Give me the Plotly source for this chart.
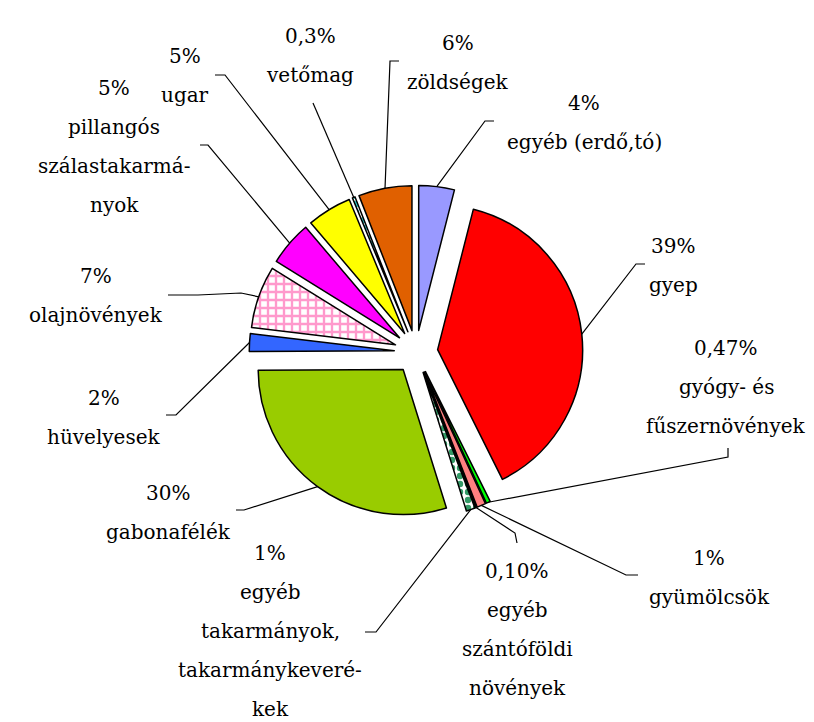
import math
import plotly.graph_objects as go

# ---------------- data ----------------
CATEGORIES = ["egyéb (erdő,tó)", "gyep", "gyógy- és fűszernövények", "gyümölcsök",
              "egyéb szántóföldi növények", "egyéb takarmányok, takarmánykeverékek",
              "gabonafélék", "hüvelyesek", "olajnövények", "pillangós szálastakarmányok",
              "ugar", "vetőmag", "zöldségek"]
VALUES = [4, 39, 0.47, 1, 0.10, 1, 30, 2, 7, 5, 5, 0.3, 6]
PCT_LABELS = ["4%", "39%", "0,47%", "1%", "0,10%", "1%", "30%", "2%", "7%", "5%", "5%", "0,3%", "6%"]
NAME_LINES = [["egyéb (erdő,tó)"], ["gyep"], ["gyógy- és", "fűszernövények"], ["gyümölcsök"],
              ["egyéb", "szántóföldi", "növények"],
              ["egyéb", "takarmányok,", "takarmánykeveré-", "kek"],
              ["gabonafélék"], ["hüvelyesek"], ["olajnövények"],
              ["pillangós", "szálastakarmá-", "nyok"], ["ugar"], ["vetőmag"], ["zöldségek"]]

# ---------------- styles / layout ----------------
W, H = 814, 722
COLORS = ["#9999FF", "#FF0000", "#00FF00", "#FF8080", "#1A1A1A", "#FFFF00", "#99CC00",
          "#3366FF", "#CCFFFF", "#FF00FF", "#FFFF00", "#000000", "#E06000"]
PAT_SHAPES = ["", "", "", "", "", ".", "", "", "+", "", "", ".", ""]
PAT_FG = ["#000000"] * 5 + ["#339966"] + ["#000000"] * 2 + ["#FF99CC"] + ["#000000"] * 2 + ["#33CCCC", "#000000"]
PULL = 0.15
CENTER_PX = (408, 344)
RADIUS_PX = 145          # radius of un-pulled pie in pixels
FONT = "DejaVu Serif"
FONT_SIZE = 20
LINE_H = 39
LABEL_X = [576, 665, 718, 701, 509, 262, 160, 96, 88, 106, 177, 302, 450]
LABEL_BASE_Y = [102, 245, 347, 557, 570, 552, 492, 397, 275, 87, 55, 35, 42]
LEADER_PTS = [
    [(477, 113), (486, 113)],
    [(628, 256), (637, 256)],
    [(720, 449), (720, 440)],
    [(618, 567), (630, 567)],
    [(507, 525), (509, 535)],
    [(368, 624), (357, 624)],
    [(236, 502), (228, 502)],
    [(168, 407), (158, 407)],
    [(233, 285), (190, 287), (160, 287)],
    [(200, 137), (192, 137)],
    [(217, 67), (207, 67)],
    [(305, 95)],
    [(382, 53), (391, 53)],
]

# pie domain so that plotly's radius (min(rx,ry)/(1+maxPull)) equals RADIUS_PX
half = RADIUS_PX * (1 + PULL)
dom_x = [(CENTER_PX[0] - half) / W, (CENTER_PX[0] + half) / W]
cy_paper = 1 - CENTER_PX[1] / H
dom_y = [cy_paper - half / H, cy_paper + half / H]

fig = go.Figure(go.Pie(
    labels=CATEGORIES, values=VALUES, sort=False, direction="clockwise", rotation=0,
    pull=[PULL] * len(VALUES), textinfo="none", hoverinfo="skip",
    marker=dict(colors=COLORS, line=dict(color="#000000", width=1.5),
                pattern=dict(shape=PAT_SHAPES, fgcolor=PAT_FG, size=8, solidity=0.5)),
    domain=dict(x=dom_x, y=dom_y), showlegend=False,
))

def px2paper(x, y):
    return x / W, 1 - y / H

total = sum(VALUES)
cum = 0.0
shapes, annotations = [], []
for i, v in enumerate(VALUES):
    mid = math.radians((cum + v / 2) / total * 360)
    cum += v
    rr = RADIUS_PX * (1 + PULL)
    sx = CENTER_PX[0] + rr * math.sin(mid)
    sy = CENTER_PX[1] - rr * math.cos(mid)
    pts = [(sx, sy)] + LEADER_PTS[i]
    path = ""
    for k, (x, y) in enumerate(pts):
        px, py = px2paper(x, y)
        path += ("M" if k == 0 else " L") + f" {px:.5f},{py:.5f}"
    shapes.append(dict(type="path", xref="paper", yref="paper", path=path,
                       line=dict(color="#000000", width=1.2)))
    lines = [PCT_LABELS[i]] + NAME_LINES[i]
    for j, t in enumerate(lines):
        base = LABEL_BASE_Y[i] + j * LINE_H
        px, py = px2paper(LABEL_X[i], base - 0.34 * FONT_SIZE)
        annotations.append(dict(text=t, x=px, y=py, xref="paper", yref="paper",
                                xanchor="center", yanchor="middle", showarrow=False,
                                font=dict(family=FONT, size=FONT_SIZE, color="#000000")))

fig.update_layout(width=W, height=H, margin=dict(l=0, r=0, t=0, b=0),
                  paper_bgcolor="white", plot_bgcolor="white",
                  font=dict(family=FONT),
                  shapes=shapes, annotations=annotations)
fig.write_html("out.html")
